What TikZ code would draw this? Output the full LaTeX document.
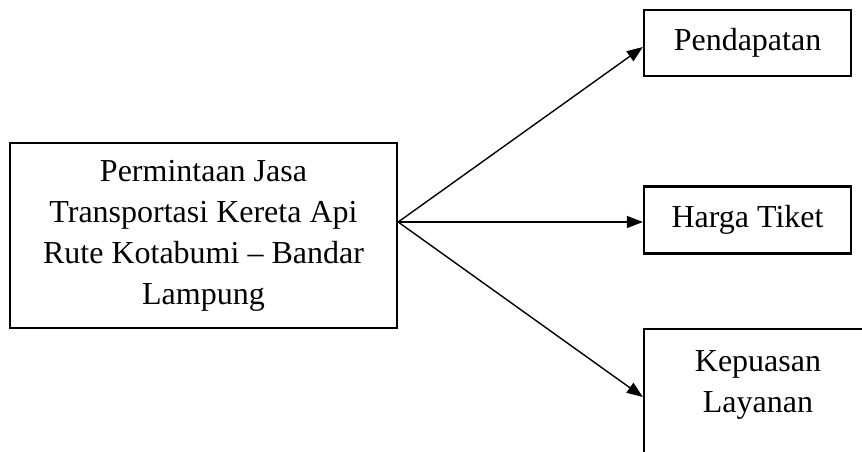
\documentclass[tikz,border=0pt]{standalone}
\usepackage{fontspec}
\setmainfont{Liberation Serif}
\usepackage{tikz}
\usetikzlibrary{arrows.meta}

\begin{document}
\begin{tikzpicture}[
  x=1pt, y=-1pt,
  box/.style={draw, line width=2.3pt, align=center, inner sep=0pt,
              font=\fontsize{32}{41}\selectfont},
  arr/.style={-{Triangle[length=16pt, width=12pt]}, line width=1.4pt}
]
  \useasboundingbox (0,0) rectangle (862,451);
  \clip (0,0) rectangle (862,451);

  \node[box, minimum width=387pt, minimum height=185pt] (dem) at (203.5,235.5)
    {Permintaan Jasa\\Transportasi Kereta Api\\Rute Kotabumi -- Bandar\\Lampung};
  \node[box, minimum width=207pt, minimum height=66pt] (pend) at (747.5,43) {Pendapatan};
  \node[box, minimum width=207pt, minimum height=67pt] (harga) at (747.5,220) {Harga Tiket};
  \node[box, anchor=north, minimum width=228pt, inner ysep=21pt, text depth=95pt]
    (kep) at (758,328) {Kepuasan\\Layanan};

  \coordinate (src) at ([yshift=13.5pt]dem.east);

  \draw[arr] (src) -- ([yshift=-4pt]pend.west);
  \draw[arr] (src) -- (src -| harga.west);
  \draw[arr] (src) -- ([yshift=-69pt]kep.north west);
\end{tikzpicture}
\end{document}
